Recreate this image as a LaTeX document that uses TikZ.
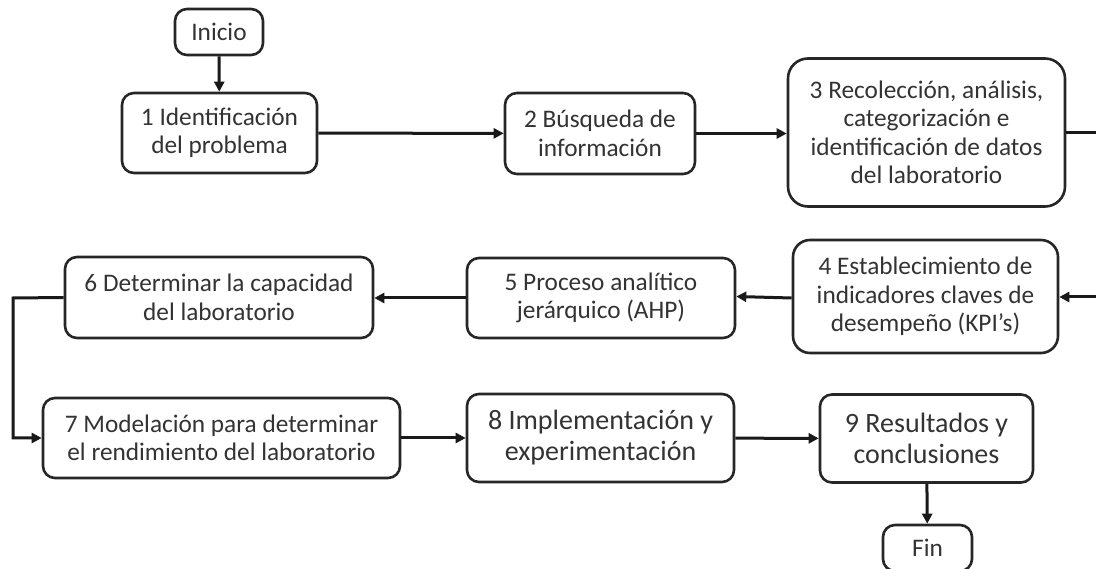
\documentclass[tikz,border=0pt]{standalone}
\usepackage{fontspec}
\setmainfont{Carlito}
\usetikzlibrary{arrows.meta}
\tikzset{
  box/.style={draw=black!85, line width=2.6pt, rounded corners=12pt, fill=white,
    align=center, inner sep=0pt, font=\fontsize{25.3}{28.5}\selectfont, text=black!80},
  bigbox/.style={box, font=\fontsize{28}{31}\selectfont},
  conn/.style={line width=3pt, draw=black!90, -{Triangle[length=10pt,width=10pt]}},
  plain/.style={line width=3pt, draw=black!90}
}
\begin{document}
\begin{tikzpicture}[x=1pt,y=-1pt]
\useasboundingbox (0,0) rectangle (1096,569);
\clip (0,0) rectangle (1096,569);
\fill[white] (0,0) rectangle (1096,569);
\node[box, minimum width=88pt, minimum height=46pt] (ini) at (219,32) {Inicio};
\node[box, minimum width=195pt, minimum height=80pt] (n1) at (219.5,133) {1 Identificación\\del problema};
\node[box, minimum width=190pt, minimum height=81pt] (n2) at (600,133.5) {2 Búsqueda de\\información};
\node[box, rounded corners=20pt, minimum width=277pt, minimum height=148pt] (n3) at (926.5,132.5) {3 Recolección, análisis,\\categorización e\\identificación de datos\\del laboratorio};
\node[box, rounded corners=17pt, minimum width=265pt, minimum height=113pt] (n4) at (925.5,296.5) {4 Establecimiento de\\indicadores claves de\\desempeño (KPI’s)};
\node[box, minimum width=268pt, minimum height=80pt] (n5) at (601,298) {5 Proceso analítico\\jerárquico (AHP)};
\node[box, minimum width=308pt, minimum height=81pt] (n6) at (219,297.5) {6 Determinar la capacidad\\del laboratorio};
\node[box, minimum width=357pt, minimum height=80pt] (n7) at (221.5,438) {7 Modelación para determinar\\el rendimiento del laboratorio};
\node[bigbox, minimum width=267pt, minimum height=88pt] (n8) at (600.5,438) {8 Implementación y\\experimentación};
\node[bigbox, minimum width=213pt, minimum height=88pt] (n9) at (926.5,438.5) {9 Resultados y\\conclusiones};
\node[box, minimum width=89pt, minimum height=46pt] (fin) at (927.5,548) {Fin};
\coordinate (r1) at (1110,133);
\coordinate (r2) at (1110,297);
\coordinate (l1) at (13,298);
\coordinate (l2) at (13,438);
\draw[conn] (ini) -- (n1);
\draw[conn] (n1) -- (n2);
\draw[conn] (n2.east) -- (n2.east -| n3.west);
\draw[plain] (n3.east |- 0,133) -- (r1) -- (r2);
\draw[conn] (r2) -- (r2 -| n4.east);
\draw[conn] (n4.west |- 0,298) -- (n4.west -| n5.east) ;
\draw[conn] (n5.west) -- (n5.west -| n6.east);
\draw[conn] (n6.west) -- (l1) -- (l2) -- (n7.west);
\draw[conn] (n7) -- (n8);
\draw[conn] (n8) -- (n9);
\draw[conn] (n9) -- (fin);
\end{tikzpicture}
\end{document}
